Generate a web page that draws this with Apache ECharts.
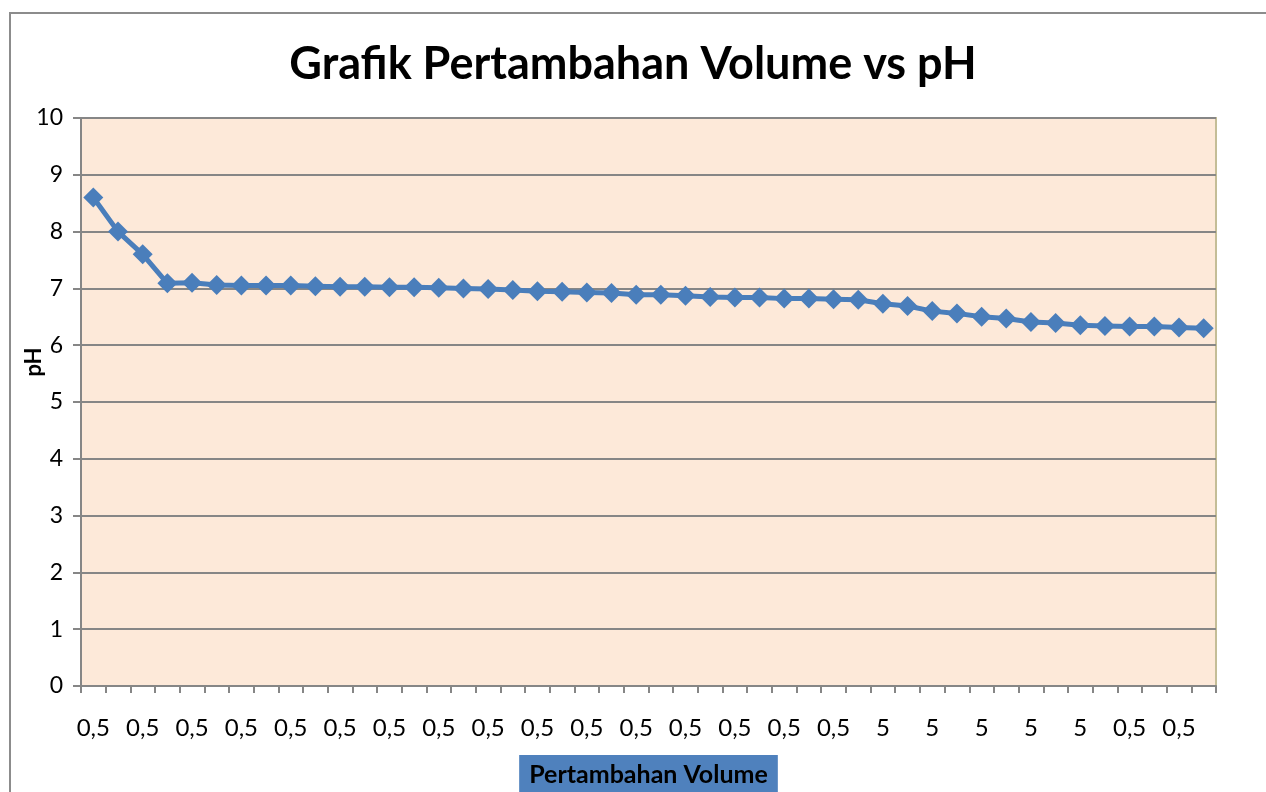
<!DOCTYPE html>
<html>
<head>
<meta charset="utf-8">
<title>Grafik Pertambahan Volume vs pH</title>
<script src="https://cdn.jsdelivr.net/npm/echarts@6/dist/echarts.min.js"></script>
<style>
  html, body { margin: 0; padding: 0; background: #fff; }
  #chart { width: 1266px; height: 792px; }
</style>
</head>
<body>
<div id="chart"></div>
<script>
// volume increments (mL) per step
const volumeSteps = [
  '0,5', '0,5', '0,5', '0,5', '0,5', '0,5', '0,5', '0,5', '0,5', '0,5',
  '0,5', '0,5', '0,5', '0,5', '0,5', '0,5', '0,5', '0,5', '0,5', '0,5',
  '0,5', '0,5', '0,5', '0,5', '0,5', '0,5', '0,5', '0,5', '0,5', '0,5',
  '0,5', '5', '5', '5', '5', '5', '5', '5', '5', '5',
  '5', '5', '0,5', '0,5', '0,5', '0,5'
];

// measured pH after each addition
const phValues = [
  8.6, 8.0, 7.6, 7.09, 7.1, 7.06, 7.05, 7.05, 7.05, 7.04,
  7.03, 7.03, 7.02, 7.02, 7.01, 7.0, 6.99, 6.97, 6.95, 6.94,
  6.93, 6.92, 6.89, 6.89, 6.87, 6.85, 6.84, 6.84, 6.82, 6.82,
  6.81, 6.8, 6.73, 6.69, 6.6, 6.56, 6.5, 6.47, 6.41, 6.39,
  6.35, 6.34, 6.33, 6.33, 6.31, 6.3
];

const phTicks = [0, 10, 1]; // min, max, step

const FONT = 'Lato, "Open Sans", sans-serif';
const chart = echarts.init(document.getElementById('chart'));

chart.setOption({
  backgroundColor: '#ffffff',
  animation: false,
  title: {
    text: 'Grafik Pertambahan Volume vs pH',
    left: 'center',
    top: 37,
    textStyle: { fontFamily: FONT, fontSize: 45, fontWeight: 'bold', color: '#000' }
  },
  graphic: [
    // outer chart frame (runs off the page right and bottom)
    {
      type: 'rect',
      shape: { x: 10, y: 13, width: 1300, height: 820 },
      style: { fill: null, stroke: '#8c8c8c', lineWidth: 2 },
      z: -1
    }
  ],
  grid: {
    left: 81, right: 50, top: 118, bottom: 106,
    outerBoundsMode: 'none',
    containLabel: false,
    show: true,
    backgroundColor: '#fde9d9',
    borderColor: '#c4bd97',
    borderWidth: 2
  },
  xAxis: {
    type: 'category',
    data: volumeSteps,
    boundaryGap: true,
    name: 'Pertambahan Volume',
    nameLocation: 'middle',
    nameGap: 69,
    nameMoveOverlap: false,
    nameTextStyle: {
      fontFamily: FONT, fontSize: 25, fontWeight: 'bold', color: '#000',
      backgroundColor: '#4f81bd',
      padding: [7, 10, 14, 10],
      verticalAlign: 'top'
    },
    axisLine: { lineStyle: { color: '#868686', width: 2 } },
    axisTick: { show: true, interval: 0, length: 7, lineStyle: { color: '#868686', width: 2 } },
    axisLabel: { interval: 1, margin: 30, fontFamily: FONT, fontSize: 24, color: '#000' },
    splitLine: { show: false }
  },
  yAxis: {
    type: 'value',
    min: phTicks[0],
    max: phTicks[1],
    interval: phTicks[2],
    name: 'pH',
    nameLocation: 'middle',
    nameGap: 36,
    nameMoveOverlap: false,
    nameRotate: 90,
    nameTextStyle: {
      fontFamily: FONT, fontSize: 22, fontWeight: 'bold', color: '#000',
      padding: [0, 0, 0, 80]
    },
    axisLine: { show: true, lineStyle: { color: '#868686', width: 2 } },
    axisTick: { show: true, length: 8, lineStyle: { color: '#868686', width: 2 } },
    axisLabel: { margin: 18, fontFamily: FONT, fontSize: 23, color: '#000' },
    splitLine: { show: true, lineStyle: { color: '#868686', width: 2 } }
  },
  series: [{
    type: 'line',
    data: phValues,
    symbol: 'diamond',
    symbolSize: 20,
    showAllSymbol: true,
    itemStyle: { color: '#4a7ebb' },
    lineStyle: { color: '#4a7ebb', width: 5 }
  }]
});
</script>
</body>
</html>
